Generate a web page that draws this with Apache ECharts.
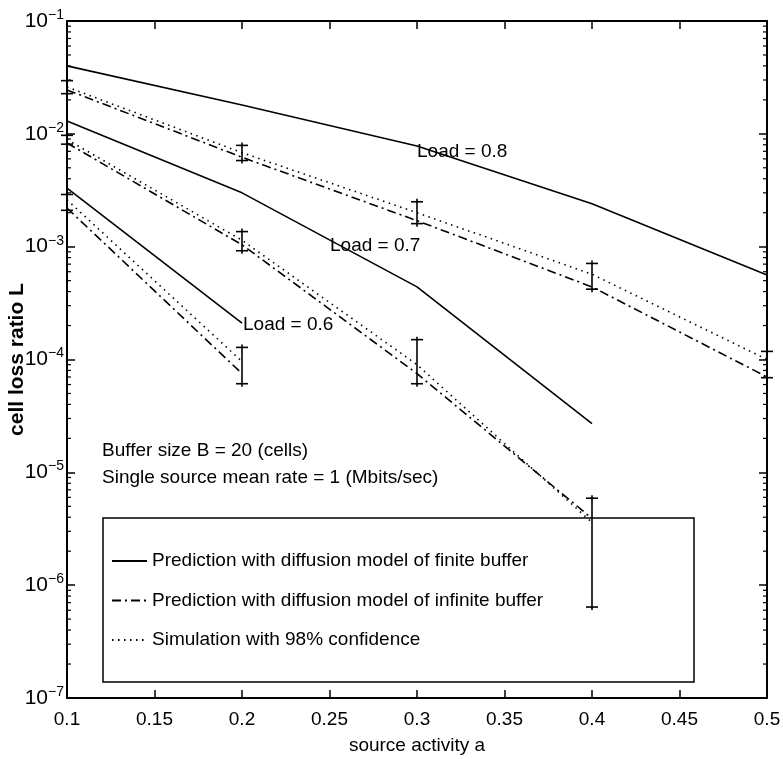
<!DOCTYPE html>
<html>
<head>
<meta charset="utf-8">
<script src="https://cdn.jsdelivr.net/npm/echarts@6/dist/echarts.min.js"></script>
<style>
  html, body { margin: 0; padding: 0; background: #fff; }
  #chart { width: 783px; height: 759px; }
</style>
</head>
<body>
<div id="chart"></div>
<script>
// Cell loss ratio vs. source activity for three offered loads
const FONT = "'Liberation Sans', Arial, Helvetica, sans-serif";
const FS = 19;

const activity = [0.1, 0.2, 0.3, 0.4, 0.5];
const xTickLabels = ['0.1', '0.15', '0.2', '0.25', '0.3', '0.35', '0.4', '0.45', '0.5'];
const yTickExponents = [-7, -6, -5, -4, -3, -2, -1];

// Load = 0.8
const finite08   = [0.040, 0.018, 0.0078, 0.0024, 5.6e-4];
const infinite08 = [0.0245, 0.0062, 0.0017, 4.4e-4, 7.0e-5];
const sim08      = [0.026, 0.0068, 0.0020, 5.7e-4, 1.0e-4];
const simLow08   = [0.0227, 0.0058, 0.0016, 4.2e-4, 6.9e-5];
const simHigh08  = [0.0296, 0.0079, 0.0025, 7.1e-4, 1.18e-4];

// Load = 0.7
const finite07   = [0.013, 0.0030, 4.4e-4, 2.7e-5];
const infinite07 = [0.0083, 0.00104, 7.5e-5, 3.9e-6];
const sim07      = [0.0089, 0.00114, 9.0e-5, 3.6e-6];
const simLow07   = [0.0081, 9.2e-4, 6.1e-5, 6.4e-7];
const simHigh07  = [0.0097, 0.00136, 1.5e-4, 5.9e-6];

// Load = 0.6
const finite06   = [0.0033, 2.1e-4];
const infinite06 = [0.0022, 7.5e-5];
const sim06      = [0.0026, 9.6e-5];
const simLow06   = [0.0021, 6.1e-5];
const simHigh06  = [0.0029, 1.28e-4];

const legendNames = [
  'Prediction with diffusion model of finite buffer',
  'Prediction with diffusion model of infinite buffer',
  'Simulation with 98% confidence'
];

const DASH_DOT = [9, 4, 2, 4];
const DOTTED = [1.5, 4.5];

function pairs(values) {
  return values.map((v, i) => [activity[i], v]);
}

function lineSeries(name, values, type) {
  return {
    type: 'line',
    name: name,
    data: pairs(values),
    symbol: 'none',
    lineStyle: { color: '#000', width: 1.6, type: type },
    itemStyle: { color: '#000' },
    z: 3
  };
}

function errorBars(lows, highs) {
  return {
    type: 'custom',
    name: 'confidence interval',
    data: lows.map((lo, i) => [activity[i], lo, highs[i]]),
    encode: { x: 0, y: [1, 2] },
    z: 4,
    renderItem: function (params, api) {
      const lo = api.coord([api.value(0), api.value(1)]);
      const hi = api.coord([api.value(0), api.value(2)]);
      const cap = 6;
      const st = { stroke: '#000', lineWidth: 1.6 };
      return {
        type: 'group',
        children: [
          { type: 'line', shape: { x1: lo[0], y1: lo[1] + 3, x2: hi[0], y2: hi[1] - 3 }, style: st },
          { type: 'line', shape: { x1: lo[0] - cap, y1: lo[1], x2: lo[0] + cap, y2: lo[1] }, style: st },
          { type: 'line', shape: { x1: hi[0] - cap, y1: hi[1], x2: hi[0] + cap, y2: hi[1] }, style: st }
        ]
      };
    }
  };
}

// minor log ticks (2..9 x 10^k) on both vertical sides of the box
const minorValues = [];
for (let e = -7; e <= -2; e++) {
  for (let k = 2; k <= 9; k++) minorValues.push(k * Math.pow(10, e));
}
const minorTickSeries = {
  type: 'custom',
  name: 'minor ticks',
  data: minorValues.map(v => [activity[0], v]),
  encode: { x: 0, y: 1 },
  z: 5,
  silent: true,
  renderItem: function (params, api) {
    const v = api.value(1);
    const l = api.coord([0.1, v]);
    const r = api.coord([0.5, v]);
    const st = { stroke: '#000', lineWidth: 1.2 };
    return {
      type: 'group',
      children: [
        { type: 'line', shape: { x1: l[0], y1: l[1], x2: l[0] + 4, y2: l[1] }, style: st },
        { type: 'line', shape: { x1: r[0] - 4, y1: r[1], x2: r[0], y2: r[1] }, style: st }
      ]
    };
  }
};

const axisLineStyle = { show: true, lineStyle: { color: '#000', width: 2 } };
const majorTick = { show: true, inside: true, length: 8, lineStyle: { color: '#000', width: 1.5 } };

function superLabel(val) {
  const e = Math.round(Math.log10(val));
  if (yTickExponents.indexOf(e) < 0) return '';
  return '{b|10}{s|\u2212' + (-e) + '}';
}

function txt(s) {
  return { text: s, fill: '#000', font: FS + 'px ' + FONT };
}

const chart = echarts.init(document.getElementById('chart'), null, { renderer: 'canvas' });

chart.setOption({
  animation: false,
  backgroundColor: '#fff',
  grid: { left: 67, right: 16, top: 21, bottom: 61, containLabel: false, outerBoundsMode: 'none' },
  xAxis: [
    {
      type: 'value', min: 0.1, max: 0.5, interval: 0.05,
      axisLine: axisLineStyle,
      axisTick: majorTick,
      axisLabel: {
        color: '#000', fontSize: FS, fontFamily: FONT, margin: 12,
        formatter: function (v) { return xTickLabels[Math.round((v - 0.1) / 0.05)]; }
      },
      splitLine: { show: false },
      name: 'source activity a', nameLocation: 'middle', nameGap: 38, nameMoveOverlap: false,
      nameTextStyle: { color: '#000', fontSize: FS, fontFamily: FONT }
    },
    {
      type: 'value', position: 'top', min: 0.1, max: 0.5, interval: 0.05,
      axisLine: axisLineStyle,
      axisTick: majorTick,
      axisLabel: { show: false }, splitLine: { show: false }
    }
  ],
  yAxis: [
    {
      type: 'log', logBase: 10, min: 1e-7, max: 1e-1,
      axisLine: axisLineStyle,
      axisTick: majorTick,
      axisLabel: {
        margin: 3, formatter: superLabel,
        rich: {
          b: { fontSize: 21, fontFamily: FONT, color: '#000', lineHeight: 26 },
          s: { fontSize: 14, fontFamily: FONT, color: '#000', verticalAlign: 'top' }
        }
      },
      splitLine: { show: false },
      name: 'cell loss ratio L', nameLocation: 'middle', nameGap: 39, nameRotate: 90, nameMoveOverlap: false,
      nameTextStyle: { color: '#000', fontSize: 21, fontWeight: 'bold', fontFamily: FONT }
    },
    {
      type: 'log', logBase: 10, min: 1e-7, max: 1e-1, position: 'right',
      axisLine: axisLineStyle,
      axisTick: majorTick,
      axisLabel: { show: false }, splitLine: { show: false }
    }
  ],
  legend: {
    data: legendNames,
    orient: 'vertical',
    left: 103, top: 518,
    padding: [32, 0, 26, 8],
    itemGap: 17.5,
    itemWidth: 35, itemHeight: 14,
    selectedMode: false,
    itemStyle: { opacity: 0, borderWidth: 0 },
    textStyle: { color: '#000', fontSize: FS, fontFamily: FONT, lineHeight: 22 },
    z: 6
  },
  graphic: [
    {
      type: 'rect', z: 1,
      shape: { x: 103, y: 518, width: 591, height: 164 },
      style: { fill: '#fff', stroke: '#000', lineWidth: 1.5 }
    },
    { type: 'text', z: 6, left: 417, top: 142, style: txt('Load = 0.8') },
    { type: 'text', z: 6, left: 330, top: 236, style: txt('Load = 0.7') },
    { type: 'text', z: 6, left: 243, top: 315, style: txt('Load = 0.6') },
    { type: 'text', z: 6, left: 102, top: 441, style: txt('Buffer size B = 20 (cells)') },
    { type: 'text', z: 6, left: 102, top: 468, style: txt('Single source mean rate = 1 (Mbits/sec)') }
  ],
  series: [
    lineSeries(legendNames[0], finite08, 'solid'),
    lineSeries(legendNames[1], infinite08, DASH_DOT),
    lineSeries(legendNames[2], sim08, DOTTED),
    lineSeries(legendNames[0], finite07, 'solid'),
    lineSeries(legendNames[1], infinite07, DASH_DOT),
    lineSeries(legendNames[2], sim07, DOTTED),
    lineSeries(legendNames[0], finite06, 'solid'),
    lineSeries(legendNames[1], infinite06, DASH_DOT),
    lineSeries(legendNames[2], sim06, DOTTED),
    errorBars(simLow08, simHigh08),
    errorBars(simLow07, simHigh07),
    errorBars(simLow06, simHigh06),
    minorTickSeries
  ]
});
</script>
</body>
</html>
